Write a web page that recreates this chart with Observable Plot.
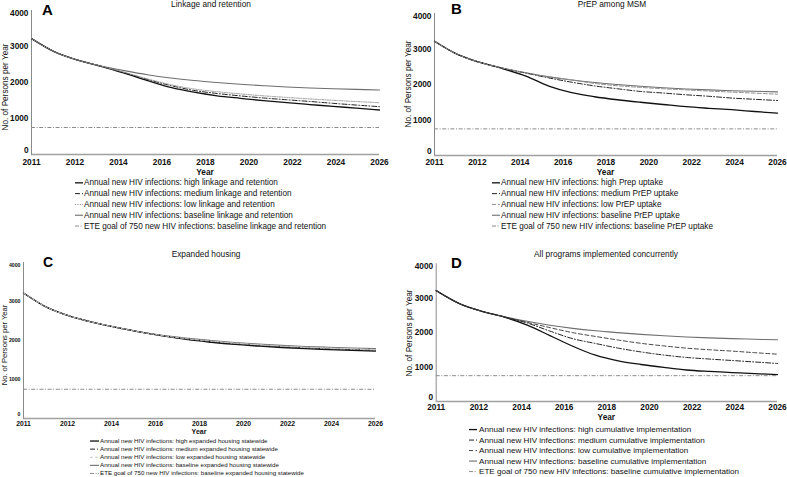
<!DOCTYPE html>
<html>
<head>
<meta charset="utf-8">
<script src="https://cdn.jsdelivr.net/npm/d3@7"></script>
<script src="https://cdn.jsdelivr.net/npm/@observablehq/plot@0.6"></script>
<style>
  html, body { margin: 0; padding: 0; background: #fff; }
  #wrap { position: relative; width: 787px; height: 477px; overflow: hidden; background: #fff; }
  #wrap > div.panel { position: absolute; }
  #overlay { position: absolute; left: 0; top: 0; pointer-events: none; }
</style>
</head>
<body>
<div id="wrap"></div>
<script>
// ---------------- DATA ----------------
const years = [2011, 2012, 2013, 2014, 2015, 2016, 2017, 2018, 2019, 2020, 2021, 2022, 2023, 2024, 2025, 2026];
const xTickLabels = [2011, 2012, 2014, 2016, 2018, 2020, 2022, 2024, 2026];
const yTicks = [0, 1000, 2000, 3000, 4000];
const eteGoal = 750;

const baseline = [3220, 2850, 2620, 2460, 2330, 2215, 2125, 2055, 2000, 1950, 1910, 1875, 1848, 1826, 1808, 1792];

// A: Linkage and retention
const highA = [3220, 2850, 2620, 2450, 2260, 2055, 1865, 1730, 1630, 1560, 1495, 1440, 1388, 1336, 1288, 1236];
const medA  = [3220, 2850, 2620, 2452, 2275, 2085, 1915, 1780, 1695, 1628, 1570, 1520, 1473, 1421, 1373, 1328];
const lowA  = [3220, 2850, 2620, 2454, 2285, 2100, 1940, 1820, 1745, 1683, 1630, 1585, 1543, 1506, 1471, 1439];

// B: PrEP among MSM
const highB = [3220, 2850, 2620, 2442, 2235, 1955, 1770, 1655, 1570, 1500, 1437, 1375, 1330, 1290, 1240, 1192];
const medB  = [3220, 2850, 2620, 2457, 2320, 2185, 2065, 1960, 1880, 1805, 1760, 1710, 1668, 1618, 1583, 1549];
const lowB  = [3220, 2850, 2620, 2460, 2328, 2215, 2130, 2030, 1965, 1920, 1880, 1848, 1815, 1786, 1757, 1727];

// C: Expanded housing
const highC = [3220, 2850, 2620, 2460, 2330, 2215, 2110, 2020, 1955, 1900, 1858, 1820, 1791, 1768, 1748, 1730];
const medC  = [3220, 2850, 2620, 2460, 2330, 2215, 2115, 2032, 1970, 1917, 1875, 1838, 1810, 1787, 1768, 1751];
const lowC  = [3220, 2850, 2620, 2460, 2330, 2215, 2120, 2043, 1985, 1933, 1893, 1857, 1829, 1807, 1788, 1771];

// D: All programs implemented concurrently
const highD = [3220, 2850, 2620, 2450, 2220, 1915, 1605, 1345, 1180, 1075, 990, 915, 873, 841, 808, 782];
const medD  = [3220, 2850, 2620, 2455, 2280, 2045, 1825, 1685, 1550, 1440, 1350, 1280, 1233, 1191, 1148, 1105];
const lowD  = [3220, 2850, 2620, 2457, 2300, 2145, 2000, 1890, 1785, 1690, 1615, 1550, 1503, 1464, 1418, 1375];

const titles = ["Linkage and retention", "PrEP among MSM", "Expanded housing", "All programs implemented concurrently"];
const letters = ["A", "B", "C", "D"];
const legendA = [
  "Annual new HIV infections: high linkage and retention",
  "Annual new HIV infections: medium linkage and retention",
  "Annual new HIV infections: low linkage and retention",
  "Annual new HIV infections: baseline linkage and retention",
  "ETE goal of 750 new HIV infections: baseline linkage and retention"
];
const legendB = [
  "Annual new HIV infections: high Prep uptake",
  "Annual new HIV infections: medium PrEP uptake",
  "Annual new HIV infections: low PrEP uptake",
  "Annual new HIV infections: baseline PrEP uptake",
  "ETE goal of 750 new HIV infections: baseline PrEP uptake"
];
const legendC = [
  "Annual new HIV infections: high expanded housing statewide",
  "Annual new HIV infections: medium expanded housing statewide",
  "Annual new HIV infections: low expanded housing statewide",
  "Annual new HIV infections: baseline expanded housing statewide",
  "ETE goal of 750 new HIV infections: baseline expanded housing statewide"
];
const legendD = [
  "Annual new HIV infections: high cumulative implementation",
  "Annual new HIV infections: medium cumulative implementation",
  "Annual new HIV infections: low cumulative implementation",
  "Annual new HIV infections: baseline cumulative implementation",
  "ETE goal of 750 new HIV infections: baseline cumulative implementation"
];
const yLabel = "No. of Persons per Year";
const xLabel = "Year";

// ---------------- HELPERS ----------------
const FONT = "'Liberation Sans', Arial, Helvetica, sans-serif";
const x0 = years[0], x1 = years[years.length - 1];
const xStep = (x1 - x0) / (xTickLabels.length - 1);
const xTickPos = xTickLabels.map((_, k) => x0 + k * xStep);
const fmtX = d => String(xTickLabels[Math.round((d - x0) / xStep)]);
const fmtY = d => String(d);
const rows = arr => years.map((year, i) => ({year, value: arr[i]}));

const S = {
  high:     {stroke: "#111", strokeWidth: 1.3},
  base:     {stroke: "#6e6e6e", strokeWidth: 1.1},
  ete:      {stroke: "#8c8c8c", strokeWidth: 1, strokeDasharray: "4,1.6,1,1.6"},
  dashdot:  {stroke: "#222", strokeWidth: 1, strokeDasharray: "5,2,1,2"},
  dotted:   {stroke: "#9a9a9a", strokeWidth: 1, strokeDasharray: "1.2,1.2"},
  dashed:   {stroke: "#8e8e8e", strokeWidth: 1, strokeDasharray: "4,2"},
  dashedDk: {stroke: "#444", strokeWidth: 1, strokeDasharray: "4,2.5"},
  dashedLt: {stroke: "#c8c8c8", strokeWidth: 1, strokeDasharray: "3,2"},
};

const panels = [
  {left: 0,   top: 0,   width: 394, height: 178, mL: 31,   mR: 15, mT: 10,   mB: 24,
   series: [highA, medA, lowA], styles: [S.high, S.dashdot, S.dotted, S.base, S.ete],
   tickFont: 8.3, yTickFont: 8.3, xPad: 4.5, legend: legendA,
   title: {x: 211, y: 7}, letter: {x: 42, y: 15, size: 15},
   ylab: {x: 8, y: 87, size: 8.2}, xlab: {y: 174.5, size: 8.3},
   leg: {sx: 75, tx: 84, y0: 185.3, dy: 10.8, size: 8.2, len: 8}},
  {left: 394, top: 0,   width: 393, height: 178, mL: 40,   mR: 10, mT: 13,   mB: 23,
   series: [highB, medB, lowB], styles: [S.high, S.dashdot, S.dashed, S.base, S.ete],
   tickFont: 8.3, yTickFont: 8.3, xPad: 4, legend: legendB,
   title: {x: 612, y: 7}, letter: {x: 451, y: 14, size: 15},
   ylab: {x: 411, y: 84, size: 8.2}, xlab: {y: 174.5, size: 8.3},
   leg: {sx: 492, tx: 501, y0: 185.3, dy: 10.8, size: 8.2, len: 8}},
  {left: 0,   top: 240, width: 394, height: 200, mL: 23,   mR: 19, mT: 22,   mB: 22,
   series: [highC, medC, lowC], styles: [S.high, S.dashdot, S.dashedLt, S.base, S.ete],
   tickFont: 6.8, yTickFont: 5.2, xPad: 3, legend: legendC,
   title: {x: 206, y: 257}, letter: {x: 43, y: 267, size: 14},
   ylab: {x: 7, y: 345, size: 7.6}, xlab: {y: 434, size: 7},
   leg: {sx: 90, tx: 100, y0: 442.9, dy: 8.1, size: 6.2, len: 9}},
  {left: 394, top: 240, width: 393, height: 185, mL: 41.7, mR: 10, mT: 23.3, mB: 24,
   series: [highD, medD, lowD], styles: [S.high, S.dashdot, S.dashedDk, S.base, S.ete],
   tickFont: 8.3, yTickFont: 8.3, xPad: 2.5, legend: legendD,
   title: {x: 606, y: 257}, letter: {x: 451, y: 268, size: 15},
   ylab: {x: 411.5, y: 333, size: 8.2}, xlab: {y: 419.5, size: 8.3},
   leg: {sx: 469, tx: 479, y0: 432, dy: 10.5, size: 8.1, len: 8}},
];

const wrap = document.getElementById("wrap");

panels.forEach((p, idx) => {
  const [hi, me, lo] = p.series;
  const [sHi, sMe, sLo, sBase, sEte] = p.styles;
  const tickCommon = {tickSize: 0, fontWeight: "bold", fill: "#111", label: null};
  const yAx = {...tickCommon, tickPadding: 3, fontSize: p.yTickFont, tickFormat: fmtY};
  const chart = Plot.plot({
    width: p.width, height: p.height,
    marginLeft: p.mL, marginRight: p.mR, marginTop: p.mT, marginBottom: p.mB,
    x: {type: "linear", domain: [x0, x1]},
    y: {type: "linear", domain: [yTicks[0], yTicks[yTicks.length - 1]]},
    style: {fontFamily: FONT, background: "transparent", overflow: "visible"},
    marks: [
      Plot.ruleX([x0], {stroke: "#8a8a8a", strokeWidth: 1}),
      Plot.ruleY([yTicks[0]], {stroke: "#a0a0a0", strokeWidth: 1.3}),
      Plot.axisY(yTicks.slice(1, -1), yAx),
      Plot.axisY([yTicks[yTicks.length - 1]], {...yAx, dy: 3}),
      Plot.axisY([yTicks[0]], {...yAx, dy: -4}),
      Plot.axisX(xTickPos, {...tickCommon, tickPadding: p.xPad, fontSize: p.tickFont, tickFormat: fmtX}),
      Plot.ruleY([eteGoal], {...sEte}),
      Plot.line(rows(baseline), {x: "year", y: "value", curve: "monotone-x", ...sBase}),
      Plot.line(rows(hi), {x: "year", y: "value", curve: "monotone-x", ...sHi}),
      Plot.line(rows(me), {x: "year", y: "value", curve: "monotone-x", ...sMe}),
      Plot.line(rows(lo), {x: "year", y: "value", curve: "monotone-x", ...sLo}),
    ]
  });
  const holder = document.createElement("div");
  holder.className = "panel";
  holder.style.left = p.left + "px";
  holder.style.top = p.top + "px";
  holder.appendChild(chart);
  wrap.appendChild(holder);
});

// ---------------- OVERLAY: titles, letters, axis titles, legends ----------------
const ov = d3.select(wrap).append("svg")
  .attr("id", "overlay").attr("width", 787).attr("height", 477)
  .style("font-family", FONT);

panels.forEach((p, idx) => {
  ov.append("text").attr("x", p.title.x).attr("y", p.title.y)
    .attr("text-anchor", "middle").attr("font-size", 8.3).attr("fill", "#111")
    .text(titles[idx]);
  ov.append("text").attr("x", p.letter.x).attr("y", p.letter.y)
    .attr("font-size", p.letter.size).attr("font-weight", "bold").attr("fill", "#000")
    .text(letters[idx]);
  ov.append("text").attr("transform", `translate(${p.ylab.x},${p.ylab.y}) rotate(-90)`)
    .attr("text-anchor", "middle").attr("font-size", p.ylab.size).attr("fill", "#111")
    .text(yLabel);
  const cx = p.left + p.mL + (p.width - p.mL - p.mR) / 2;
  ov.append("text").attr("x", cx).attr("y", p.xlab.y)
    .attr("text-anchor", "middle").attr("font-size", p.xlab.size).attr("font-weight", "bold").attr("fill", "#111")
    .text(xLabel);
  const L = p.leg;
  p.legend.forEach((label, i) => {
    const by = L.y0 + i * L.dy;
    const st = p.styles[i];
    ov.append("line")
      .attr("x1", L.sx).attr("x2", L.sx + L.len)
      .attr("y1", by - L.size * 0.3).attr("y2", by - L.size * 0.3)
      .attr("stroke", st.stroke).attr("stroke-width", st.strokeWidth)
      .attr("stroke-dasharray", st.strokeDasharray || null);
    ov.append("text").attr("x", L.tx).attr("y", by)
      .attr("font-size", L.size).attr("fill", "#111")
      .text(label);
  });
});
</script>
</body>
</html>
